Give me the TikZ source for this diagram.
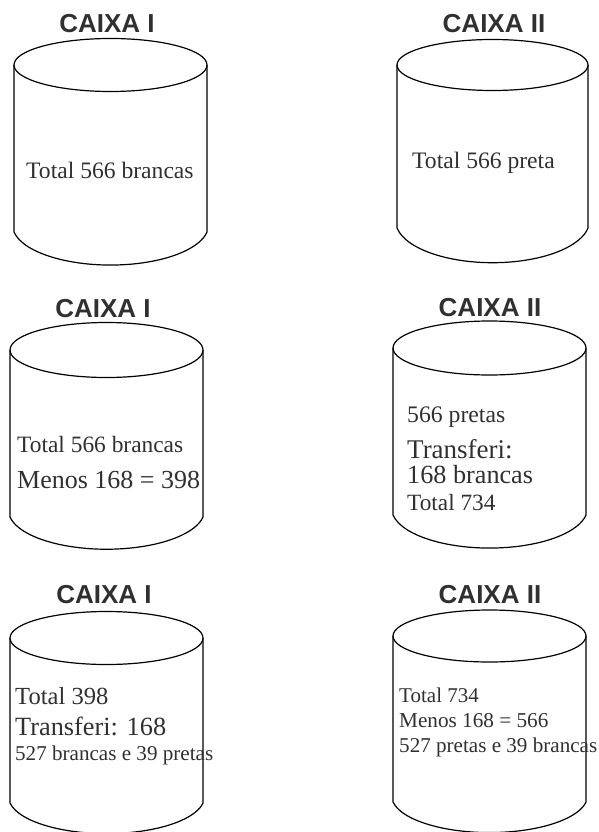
\documentclass[tikz,border=0pt]{standalone}
\usepackage{fontspec}
\setmainfont{Liberation Serif}
\newfontfamily\rotulofont{Liberation Sans}
\usepackage{xcolor}
\definecolor{tinta}{HTML}{303030}

\begin{document}
\begin{tikzpicture}[x=1pt,y=1pt,
    caixa/.style={line width=1.2pt, black},
    rotulo/.style={font=\rotulofont\bfseries\fontsize{26}{30}\selectfont, text=tinta, anchor=base, inner sep=0pt},
    texto/.style={text=tinta, anchor=base west, inner sep=0pt}]
    % Page
    \useasboundingbox (0,0) rectangle (598,-832);

    % Row 1: initial state
    \node[rotulo] (tituloA) at (107,-33) {CAIXA I};
    \draw[caixa] (110.5,-65) ellipse (96.5 and 26.5);
    \draw[caixa] (14,-65) -- (14,-232) arc[start angle=190, end angle=350, x radius=98, y radius=40] -- (207,-65);
    \node[texto, font=\fontsize{23.6}{28}\selectfont] (totalA) at (26,-178) {Total 566 brancas};

    \node[rotulo] (tituloB) at (494,-33) {CAIXA II};
    \draw[caixa] (492.5,-65) ellipse (95.5 and 25.5);
    \draw[caixa] (397,-65) -- (397,-228) arc[start angle=190, end angle=350, x radius=97, y radius=42] -- (588,-65);
    \node[texto, font=\fontsize{23.6}{28}\selectfont] (totalB) at (412,-168) {Total 566 preta};

    % Row 2: first transfer
    \node[rotulo] (tituloC) at (103,-317) {CAIXA I};
    \draw[caixa] (106.5,-350) ellipse (96.5 and 27.5);
    \draw[caixa] (10,-350) -- (10,-517) arc[start angle=190, end angle=350, x radius=98, y radius=39] -- (203,-350);
    \node[texto, font=\fontsize{23.4}{28}\selectfont] (totalC) at (17,-452) {Total 566 brancas};
    \node[texto, font=\fontsize{26}{30}\selectfont] (menosC) at (17,-488) {Menos 168 = 398};

    \node[rotulo] (tituloD) at (490,-316) {CAIXA II};
    \draw[caixa] (489.5,-348) ellipse (96.5 and 27);
    \draw[caixa] (393,-348) -- (393,-515) arc[start angle=190, end angle=350, x radius=98, y radius=40] -- (586,-348);
    \node[texto, font=\fontsize{23.7}{28}\selectfont] (pretasD) at (407,-422) {566 pretas};
    \node[texto, font=\fontsize{27}{30}\selectfont] (transfD) at (407,-458) {Transferi:};
    \node[texto, font=\fontsize{26.2}{30}\selectfont] (brancasD) at (407,-483) {168 brancas};
    \node[texto, font=\fontsize{23.3}{28}\selectfont] (totalD) at (407,-510) {Total 734};

    % Row 3: transfer back
    \node[rotulo] (tituloE) at (104,-603) {CAIXA I};
    \draw[caixa] (106.5,-638) ellipse (96.5 and 26.5);
    \draw[caixa] (10,-638) -- (10,-803) arc[start angle=190, end angle=350, x radius=98, y radius=37] -- (203,-638);
    \node[texto, font=\fontsize{24.6}{28}\selectfont] (totalE) at (15,-704) {Total 398};
    \node[texto, font=\fontsize{26.3}{30}\selectfont] (transfE) at (15,-735) {Transferi: 168};
    \node[texto, font=\fontsize{21.1}{25}\selectfont] (restoE) at (15,-760) {527 brancas e 39 pretas};

    \node[rotulo] (tituloF) at (490,-603) {CAIXA II};
    \draw[caixa] (489.5,-636) ellipse (96.5 and 26);
    \draw[caixa] (393,-636) -- (393,-802) arc[start angle=190, end angle=350, x radius=98, y radius=37] -- (586,-636);
    \node[texto, font=\fontsize{21}{25}\selectfont] (totalF) at (399,-702) {Total 734};
    \node[texto, font=\fontsize{21.2}{25}\selectfont] (menosF) at (399,-727) {Menos 168 = 566};
    \node[texto, font=\fontsize{21.1}{25}\selectfont] (restoF) at (399,-752) {527 pretas e 39 brancas};
\end{tikzpicture}
\end{document}
